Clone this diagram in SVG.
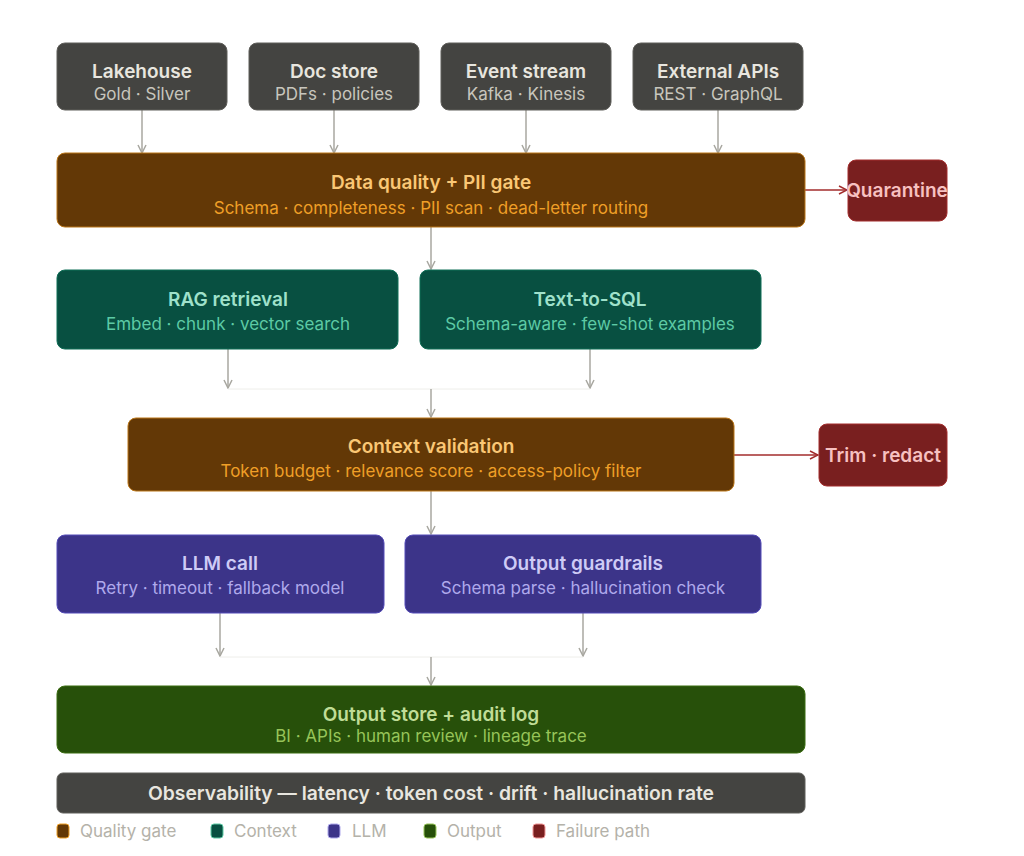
<svg xmlns="http://www.w3.org/2000/svg" width="1024" height="856" viewBox="0 0 1024 856">
<defs>
<marker id="ag" viewBox="0 0 10 10" refX="9" refY="5" markerWidth="10" markerHeight="10" markerUnits="userSpaceOnUse" orient="auto"><path d="M1,1 L9,5 L1,9" fill="none" stroke="#a8a7a0" stroke-width="1.5"/></marker>
<marker id="ar" viewBox="0 0 10 10" refX="9" refY="5" markerWidth="10" markerHeight="10" markerUnits="userSpaceOnUse" orient="auto"><path d="M1,1 L9,5 L1,9" fill="none" stroke="#a32d2d" stroke-width="1.5"/></marker>
<style>
text{font-family:Inter,"Noto Sans",sans-serif;text-anchor:middle}
.t{font-size:19px;font-weight:600}
.s{font-size:17px}
.src rect{fill:#444441;stroke:#5f5e5a;stroke-width:1}
.src .t{fill:#e8e6df}.src .s{fill:#c8c6bd}
.gate rect{fill:#633806;stroke:#ba7517;stroke-width:1}
.gate .t{fill:#fac775}.gate .s{fill:#ef9f27}
.ctx rect{fill:#085041;stroke:#0f6e56;stroke-width:1}
.ctx .t{fill:#9fe1cb}.ctx .s{fill:#5dcaa5}
.llm rect{fill:#3c3489;stroke:#534ab7;stroke-width:1}
.llm .t{fill:#cecbf6}.llm .s{fill:#afa9ec}
.out rect{fill:#27500a;stroke:#3b6d11;stroke-width:1}
.out .t{fill:#c0dd97}.out .s{fill:#97c459}
.fail rect{fill:#791f1f;stroke:#a32d2d;stroke-width:1}
.fail text{fill:#f7c1c1;font-size:19px;font-weight:600}
.cg{fill:none;stroke:#a8a7a0;stroke-width:1.5}
.cr{fill:none;stroke:#a32d2d;stroke-width:1.5}
.leg text{font-size:17px;fill:#b4b2a9;text-anchor:start}
</style>
</defs>
<g id="connectors">
<line class="cg" x1="142" y1="110" x2="142" y2="153" marker-end="url(#ag)"/>
<line class="cg" x1="334" y1="110" x2="334" y2="153" marker-end="url(#ag)"/>
<line class="cg" x1="526" y1="110" x2="526" y2="153" marker-end="url(#ag)"/>
<line class="cg" x1="718" y1="110" x2="718" y2="153" marker-end="url(#ag)"/>
<line class="cr" x1="805" y1="190" x2="847" y2="190" marker-end="url(#ar)"/>
<line class="cg" x1="431" y1="227" x2="431" y2="269" marker-end="url(#ag)"/>
<line class="cg" x1="228" y1="349" x2="228" y2="388" marker-end="url(#ag)"/>
<line class="cg" x1="590" y1="349" x2="590" y2="388" marker-end="url(#ag)"/>
<line x1="228" y1="389" x2="590" y2="389" stroke="#eeeeea" stroke-width="1"/>
<line class="cg" x1="431" y1="389" x2="431" y2="417" marker-end="url(#ag)"/>
<line class="cr" x1="734" y1="455" x2="818" y2="455" marker-end="url(#ar)"/>
<line class="cg" x1="431" y1="491" x2="431" y2="534" marker-end="url(#ag)"/>
<line class="cg" x1="220" y1="613" x2="220" y2="656" marker-end="url(#ag)"/>
<line class="cg" x1="583" y1="613" x2="583" y2="656" marker-end="url(#ag)"/>
<line x1="220" y1="657" x2="583" y2="657" stroke="#eeeeea" stroke-width="1"/>
<line class="cg" x1="431" y1="657" x2="431" y2="685" marker-end="url(#ag)"/>
</g>
<g id="lakehouse" class="src"><rect x="57" y="43" width="170" height="67" rx="8"/><text class="t" x="142" y="78">Lakehouse</text><text class="s" x="142" y="100">Gold · Silver</text></g>
<g id="docstore" class="src"><rect x="249" y="43" width="170" height="67" rx="8"/><text class="t" x="334" y="78">Doc store</text><text class="s" x="334" y="100">PDFs · policies</text></g>
<g id="eventstream" class="src"><rect x="441" y="43" width="170" height="67" rx="8"/><text class="t" x="526" y="78">Event stream</text><text class="s" x="526" y="100">Kafka · Kinesis</text></g>
<g id="externalapis" class="src"><rect x="633" y="43" width="170" height="67" rx="8"/><text class="t" x="718" y="78">External APIs</text><text class="s" x="718" y="100">REST · GraphQL</text></g>
<g id="gate" class="gate"><rect x="57" y="153" width="748" height="74" rx="8"/><text class="t" x="431" y="189">Data quality + PII gate</text><text class="s" x="431" y="214">Schema · completeness · PII scan · dead-letter routing</text></g>
<g id="quarantine" class="fail"><rect x="848" y="160" width="99" height="61" rx="8"/><text x="897" y="197">Quarantine</text></g>
<g id="rag" class="ctx"><rect x="57" y="270" width="341" height="79" rx="8"/><text class="t" x="228" y="306">RAG retrieval</text><text class="s" x="228" y="330">Embed · chunk · vector search</text></g>
<g id="text2sql" class="ctx"><rect x="420" y="270" width="341" height="79" rx="8"/><text class="t" x="590" y="306">Text-to-SQL</text><text class="s" x="590" y="330">Schema-aware · few-shot examples</text></g>
<g id="ctxval" class="gate"><rect x="128" y="418" width="606" height="73" rx="8"/><text class="t" x="431" y="453">Context validation</text><text class="s" x="431" y="477">Token budget · relevance score · access-policy filter</text></g>
<g id="trim" class="fail"><rect x="819" y="424" width="128" height="62" rx="8"/><text x="883" y="462">Trim · redact</text></g>
<g id="llmcall" class="llm"><rect x="57" y="535" width="327" height="78" rx="8"/><text class="t" x="220" y="570">LLM call</text><text class="s" x="220" y="594">Retry · timeout · fallback model</text></g>
<g id="guardrails" class="llm"><rect x="405" y="535" width="356" height="78" rx="8"/><text class="t" x="583" y="570">Output guardrails</text><text class="s" x="583" y="594">Schema parse · hallucination check</text></g>
<g id="outstore" class="out"><rect x="57" y="686" width="748" height="67" rx="8"/><text class="t" x="431" y="721">Output store + audit log</text><text class="s" x="431" y="742">BI · APIs · human review · lineage trace</text></g>
<g id="observability" class="src"><rect x="57" y="773" width="748" height="40" rx="6"/><text x="431" y="800" style="font-size:19.3px;font-weight:600;fill:#e8e6df">Observability — latency · token cost · drift · hallucination rate</text></g>
<g id="legend" class="leg">
<rect x="57" y="824" width="12" height="14" rx="3" fill="#633806" stroke="#ef9f27"/><text x="80" y="837">Quality gate</text>
<rect x="211" y="824" width="12" height="14" rx="3" fill="#085041" stroke="#5dcaa5"/><text x="234" y="837">Context</text>
<rect x="328" y="824" width="12" height="14" rx="3" fill="#3c3489" stroke="#afa9ec"/><text x="352" y="837">LLM</text>
<rect x="424" y="824" width="12" height="14" rx="3" fill="#27500a" stroke="#97c459"/><text x="447" y="837">Output</text>
<rect x="533" y="824" width="12" height="14" rx="3" fill="#791f1f" stroke="#f09595"/><text x="556" y="837">Failure path</text>
</g>
</svg>
